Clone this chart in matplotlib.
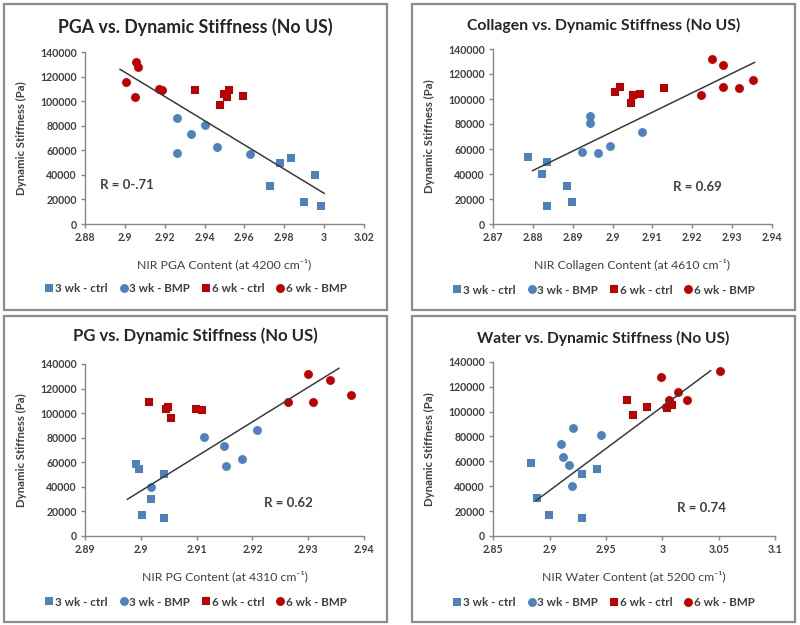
import matplotlib
matplotlib.use('Agg')
import numpy as np
import matplotlib.pyplot as plt
from matplotlib.patches import Rectangle
from matplotlib.lines import Line2D

plt.rcParams['font.family'] = ['Lato', 'DejaVu Sans']

# ---- data ----
group_names = ['3 wk - ctrl', '3 wk - BMP', '6 wk - ctrl', '6 wk - BMP']

# PGA panel
pga_ctrl3_x = [2.973, 2.978, 2.9836, 2.9898, 2.9955, 2.9983]
pga_ctrl3_y = [30700, 49700, 53800, 17700, 40200, 14700]
pga_bmp3_x = [2.9262, 2.926, 2.933, 2.940, 2.9464, 2.963]
pga_bmp3_y = [86700, 57600, 73400, 81000, 62800, 56800]
pga_ctrl6_x = [2.9354, 2.9478, 2.9495, 2.9511, 2.9523, 2.9592]
pga_ctrl6_y = [109200, 97000, 105700, 103300, 109200, 104300]
pga_bmp6_x = [2.9006, 2.9056, 2.9068, 2.9051, 2.917, 2.9185]
pga_bmp6_y = [115500, 131800, 127700, 103300, 109800, 109200]
pga_fit_x = [2.8976, 3.0]
pga_fit_y = [126100, 25000]

# Collagen panel
col_ctrl3_x = [2.8788, 2.8823, 2.8836, 2.8836, 2.8886, 2.8898]
col_ctrl3_y = [53900, 40000, 49300, 14700, 30400, 17300]
col_bmp3_x = [2.8944, 2.8942, 2.8922, 2.8962, 2.8993, 2.9074]
col_bmp3_y = [86400, 81100, 57900, 56500, 62400, 73300]
col_ctrl6_x = [2.9007, 2.9019, 2.9047, 2.905, 2.907, 2.913]
col_ctrl6_y = [105300, 109300, 96500, 103200, 103700, 109100]
col_bmp6_x = [2.925, 2.9277, 2.9278, 2.9221, 2.9319, 2.9354]
col_bmp6_y = [131700, 127500, 109300, 103500, 109100, 115200]
col_fit_x = [2.8799, 2.9357]
col_fit_y = [42700, 129300]

# PG panel
pg_ctrl3_x = [2.8992, 2.8996, 2.9003, 2.9018, 2.9042, 2.9042]
pg_ctrl3_y = [58600, 54300, 17100, 30400, 50200, 14700]
pg_bmp3_x = [2.9018, 2.9113, 2.9149, 2.9153, 2.9181, 2.9209]
pg_bmp3_y = [39900, 80900, 73500, 57300, 63000, 86300]
pg_ctrl6_x = [2.9015, 2.9048, 2.9046, 2.9054, 2.9099, 2.9109]
pg_ctrl6_y = [108800, 105300, 103400, 96100, 103700, 102900]
pg_bmp6_x = [2.9264, 2.930, 2.9339, 2.9309, 2.9376]
pg_bmp6_y = [108800, 131900, 127000, 108800, 114800]
pg_fit_x = [2.8976, 2.9355]
pg_fit_y = [29900, 136500]

# Water panel
wat_ctrl3_x = [2.8837, 2.8885, 2.8991, 2.929, 2.929, 2.9417]
wat_ctrl3_y = [58400, 30500, 17100, 49800, 14500, 54100]
wat_bmp3_x = [2.9098, 2.9121, 2.9175, 2.9204, 2.9195, 2.9456]
wat_bmp3_y = [73900, 63200, 57000, 86500, 39900, 81100]
wat_ctrl6_x = [2.9686, 2.9743, 2.9864, 3.004, 3.009]
wat_ctrl6_y = [109200, 96900, 103600, 103100, 105200]
wat_bmp6_x = [2.9988, 3.003, 3.0059, 3.0136, 3.0216, 3.0509]
wat_bmp6_y = [128000, 103500, 109200, 115400, 109200, 132300]
wat_fit_x = [2.8879, 3.0429]
wat_fit_y = [28400, 132800]

blue = '#4F81BD'
red = '#C00000'
text_col = '#404040'
axis_col = '#868686'
markers = ['s', 'o', 's', 'o']
colors = [blue, blue, red, red]


def draw_panel(ax, groups, fit_x, fit_y, xlabel, xlim, xstep, r_text, r_pos, r_ha):
    for (gx, gy), m, c in zip(groups, markers, colors):
        ax.plot(gx, gy, linestyle='none', marker=m, color=c, markersize=6.4, markeredgewidth=0)
    ax.plot(fit_x, fit_y, color='#3a3a3a', linewidth=1.1)
    ax.set_xlim(xlim)
    ax.set_ylim(0, 140000)
    ax.set_xticks(np.arange(xlim[0], xlim[1] + xstep / 2, xstep))
    ax.set_yticks(np.arange(0, 140001, 20000))
    ax.xaxis.set_major_formatter(matplotlib.ticker.FuncFormatter(lambda v, p: ('%.2f' % v).rstrip('0').rstrip('.')))
    ax.yaxis.set_major_formatter(matplotlib.ticker.FuncFormatter(lambda v, p: '%d' % v))
    for s in ['top', 'right']:
        ax.spines[s].set_visible(False)
    for s in ['left', 'bottom']:
        ax.spines[s].set_color(axis_col)
        ax.spines[s].set_linewidth(1.0)
    ax.tick_params(direction='out', length=3, width=1, color=axis_col,
                   labelsize=7.6, labelcolor=text_col, pad=3)
    for lab in ax.get_xticklabels() + ax.get_yticklabels():
        lab.set_fontweight('bold')
    ax.set_xlabel(xlabel, fontsize=8.8, color=text_col)
    ax.set_ylabel('Dynamic Stiffness (Pa)', fontsize=8.2, color=text_col, fontweight='bold')
    ax.text(r_pos[0], r_pos[1], r_text, transform=ax.transAxes, ha=r_ha, va='center',
            fontsize=9.5, fontweight='bold', color=text_col)


fig = plt.figure(figsize=(8, 6.25), dpi=100)
W, H = 800.0, 625.0


def frac_rect(x0, y0, x1, y1):
    # pixel box (top-left origin) -> figure fraction [l, b, w, h]
    return [x0 / W, 1 - y1 / H, (x1 - x0) / W, (y1 - y0) / H]


panels = [
    dict(ax=(85, 52.3, 364, 224), frame=(4, 4, 387, 310),
         groups=[(pga_ctrl3_x, pga_ctrl3_y), (pga_bmp3_x, pga_bmp3_y),
                 (pga_ctrl6_x, pga_ctrl6_y), (pga_bmp6_x, pga_bmp6_y)],
         fit=(pga_fit_x, pga_fit_y), title='PGA vs. Dynamic Stiffness (No US)', tsize=12.8,
         xlabel='NIR PGA Content (at 4200 cm\u207b\u00b9)', xlim=(2.88, 3.02), xstep=0.02,
         r='R = 0-.71', rpos=(0.054, 0.23), rha='left', title_y=27, leg_y=289),
    dict(ax=(493.3, 49, 771.7, 224), frame=(412, 4, 795, 310),
         groups=[(col_ctrl3_x, col_ctrl3_y), (col_bmp3_x, col_bmp3_y),
                 (col_ctrl6_x, col_ctrl6_y), (col_bmp6_x, col_bmp6_y)],
         fit=(col_fit_x, col_fit_y), title='Collagen vs. Dynamic Stiffness (No US)', tsize=11.3,
         xlabel='NIR Collagen Content (at 4610 cm\u207b\u00b9)', xlim=(2.87, 2.94), xstep=0.01,
         r='R = 0.69', rpos=(0.733, 0.214), rha='center', title_y=25, leg_y=290),
    dict(ax=(85, 364, 364, 536), frame=(4, 316, 387, 622),
         groups=[(pg_ctrl3_x, pg_ctrl3_y), (pg_bmp3_x, pg_bmp3_y),
                 (pg_ctrl6_x, pg_ctrl6_y), (pg_bmp6_x, pg_bmp6_y)],
         fit=(pg_fit_x, pg_fit_y), title='PG vs. Dynamic Stiffness (No US)', tsize=12.0,
         xlabel='NIR PG Content (at 4310 cm\u207b\u00b9)', xlim=(2.89, 2.94), xstep=0.01,
         r='R = 0.62', rpos=(0.728, 0.19), rha='center', title_y=336, leg_y=602),
    dict(ax=(493.3, 361.7, 775, 536), frame=(412, 316, 795, 622),
         groups=[(wat_ctrl3_x, wat_ctrl3_y), (wat_bmp3_x, wat_bmp3_y),
                 (wat_ctrl6_x, wat_ctrl6_y), (wat_bmp6_x, wat_bmp6_y)],
         fit=(wat_fit_x, wat_fit_y), title='Water vs. Dynamic Stiffness (No US)', tsize=11.2,
         xlabel='NIR Water Content (at 5200 cm\u207b\u00b9)', xlim=(2.85, 3.1), xstep=0.05,
         r='R = 0.74', rpos=(0.74, 0.163), rha='center', title_y=338, leg_y=603),
]

handles = [Line2D([], [], linestyle='none', marker=m, color=c, markersize=6.4, markeredgewidth=0)
           for m, c in zip(markers, colors)]

for p in panels:
    x0, y0, x1, y1 = p['ax']
    ax = fig.add_axes(frac_rect(x0, y0, x1, y1))
    draw_panel(ax, p['groups'], p['fit'][0], p['fit'][1], p['xlabel'],
               p['xlim'], p['xstep'], p['r'], p['rpos'], p['rha'])
    ax_w = x1 - x0
    ax_h = y1 - y0
    ax.yaxis.set_label_coords(-58.0 / ax_w, 0.5)
    ax.xaxis.set_label_coords(0.5, -35.0 / ax_h)
    fx0, fy0, fx1, fy1 = p['frame']
    fig.patches.append(Rectangle((fx0 / W, 1 - fy1 / H), (fx1 - fx0) / W, (fy1 - fy0) / H,
                                 transform=fig.transFigure, fill=False,
                                 edgecolor='#8c8c8c', linewidth=1.6))
    cx = (fx0 + fx1) / 2.0 / W
    fig.text(cx, 1 - p['title_y'] / H, p['title'], ha='center', va='center',
             fontsize=p['tsize'], fontweight='bold', color='#262626')
    fig.legend(handles, group_names, loc='center', bbox_to_anchor=(cx, 1 - p['leg_y'] / H),
               ncol=4, frameon=False, handletextpad=0.05, columnspacing=0.9, handlelength=0.9,
               prop={'size': 8.4, 'weight': 'bold'}, labelcolor=text_col)

fig.savefig('out.png', dpi=100)
